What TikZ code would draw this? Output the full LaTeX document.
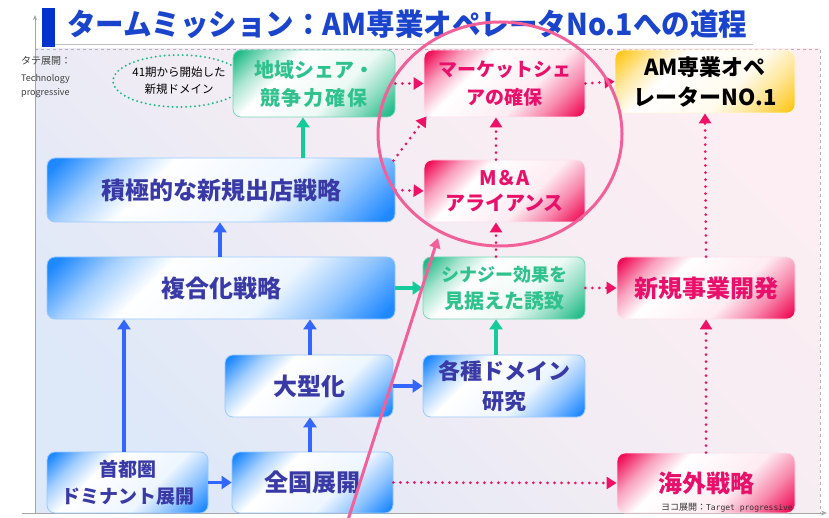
\documentclass[tikz,border=0pt]{standalone}
\usepackage{fontspec}
\usepackage{graphicx}
\setmainfont{Noto Sans CJK JP}
\newfontfamily\jp{Noto Sans CJK JP}
\newfontfamily\monof{DejaVu Sans Mono}
\usetikzlibrary{arrows.meta,shapes.geometric}
\definecolor{bxB}{HTML}{1E88FF}
\definecolor{bxG}{HTML}{22BB88}
\definecolor{bxP}{HTML}{F0105A}
\definecolor{bxY}{HTML}{FFC820}
\definecolor{txB}{HTML}{3A3AA6}
\definecolor{txG}{HTML}{30C28E}
\definecolor{txP}{HTML}{E8106A}
\definecolor{arB}{HTML}{3366FF}
\definecolor{arG}{HTML}{14CC99}
\definecolor{arP}{HTML}{EE1166}
\definecolor{circP}{HTML}{F2609A}
\definecolor{bgP}{HTML}{FCEEF2}
\definecolor{bgB}{HTML}{DDE8F8}
\definecolor{titleB}{HTML}{1A44CC}
\definecolor{barB}{HTML}{0033CC}
\pgfdeclarehorizontalshading{bluesh}{100bp}{color(0bp)=(bxB); color(17bp)=(bxB); color(27bp)=(bxB!40!white); color(37bp)=(white); color(60bp)=(white!92!bxB); color(72bp)=(bxB!50!white); color(83bp)=(bxB); color(100bp)=(bxB)}
\pgfdeclarehorizontalshading{greensh}{100bp}{color(0bp)=(bxG); color(17bp)=(bxG); color(27bp)=(bxG!40!white); color(37bp)=(white); color(60bp)=(white!92!bxG); color(72bp)=(bxG!50!white); color(83bp)=(bxG); color(100bp)=(bxG)}
\pgfdeclarehorizontalshading{pinksh}{100bp}{color(0bp)=(bxP); color(17bp)=(bxP); color(27bp)=(bxP!40!white); color(37bp)=(white); color(60bp)=(white!92!bxP); color(72bp)=(bxP!50!white); color(83bp)=(bxP); color(100bp)=(bxP)}
\pgfdeclarehorizontalshading{yellowsh}{100bp}{color(0bp)=(bxY); color(17bp)=(bxY); color(27bp)=(bxY!40!white); color(37bp)=(white); color(60bp)=(white!92!bxY); color(72bp)=(bxY!50!white); color(83bp)=(bxY); color(100bp)=(bxY)}
\tikzset{
  box/.style={rounded corners=8pt, inner sep=0pt, align=center, line width=0.8pt, shading angle=-45},
  bluebox/.style={box, shading=bluesh, draw=bxB!45!white, text=txB, font={\jp\bfseries\fontsize{24}{30}\selectfont}},
  greenbox/.style={box, shading=greensh, draw=bxG!60!white, text=txG, font={\jp\bfseries\fontsize{20}{28}\selectfont}},
  pinkbox/.style={box, shading=pinksh, draw=bxP!12!white, text=txP, font={\jp\bfseries\fontsize{20}{28}\selectfont}},
  yellowbox/.style={box, shading=yellowsh, draw=bxY!15!white, text=black, font={\jp\bfseries\fontsize{22}{30}\selectfont}},
  barrow/.style={draw=arB, line width=3.5pt, -{Triangle[width=13pt,length=10pt]}},
  garrow/.style={draw=arG, line width=3.5pt, -{Triangle[width=13pt,length=10pt]}},
  parrow/.style={draw=arP, line width=3pt, line cap=round, dash pattern=on 0pt off 7pt, -{Triangle[width=12pt,length=10pt]}},
  axisline/.style={draw=gray!70, line width=0.8pt},
  small/.style={inner sep=0pt, anchor=west, text=black!75}
}
\begin{document}
\begin{tikzpicture}[x=1pt,y=-1pt]
\useasboundingbox (0,0) rectangle (829,518);
\fill[white] (0,0) rectangle (829,518);
% background panel
\shade[top color=bgP, bottom color=bgB, middle color=bgP!70!bgB, shading angle=-45] (35,49) rectangle (820,513);
\draw[gray!60, dashed, line width=0.8pt] (35,49) -- (820,49) -- (820,513);
\draw[gray!50, line width=1pt] (55,45) -- (753,45);
% axes
\draw[axisline, -{Stealth[length=5pt,width=4pt]}] (35,513) -- (35,15);
\draw[axisline, -{Stealth[length=6pt,width=5pt]}] (22,513) -- (827,513);
% title
\fill[barB] (42,8) rectangle (55,47);
\node[anchor=west, inner sep=0pt, text=titleB] (title) at (67,24) {\resizebox{680pt}{\height}{\jp\bfseries\fontsize{30}{34}\selectfont タームミッション：AM専業オペレータNo.1への道程}};
% axis labels
\node[small, font={\jp\fontsize{10}{12}\selectfont}] (tate) at (21,61) {タテ展開：};
\node[small, font={\fontsize{9}{11}\selectfont}] (tech) at (21,79) {Technology};
\node[small, font={\fontsize{9}{11}\selectfont}] (prog) at (21,93) {progressive};
% boxes
\node[ellipse, draw=bxG, line width=2.2pt, line cap=round, dash pattern=on 0pt off 4.5pt, minimum width=100pt, minimum height=52pt, align=center, inner sep=0pt, font={\jp\fontsize{11.5}{17}\selectfont}] (ell) at (179,81) {41期から開始した\\新規ドメイン};
\node[greenbox, minimum width=162pt, minimum height=67pt] (chiiki) at (314,83.5) {地域シェア・\\競\kern2pt 争\kern2pt 力\kern2pt 確\kern2pt 保};
\node[pinkbox, minimum width=161pt, minimum height=67pt, font={\jp\bfseries\fontsize{19}{28}\selectfont}] (market) at (504.5,83.5) {マーケットシェ\\アの確保};
\node[yellowbox, minimum width=180pt, minimum height=63pt] (am) at (705,81.5) {AM専業オペ\\レーターNO.1};
\node[pinkbox, minimum width=161pt, minimum height=62pt, font={\jp\bfseries\fontsize{20}{25}\selectfont}] (ma) at (504.5,191) {M＆A\\アライアンス};
\node[bluebox, minimum width=348pt, minimum height=64pt] (sekkyoku) at (221,190) {積極的な新規出店戦略};
\node[bluebox, minimum width=348pt, minimum height=62pt] (fukugo) at (221,288) {複合化戦略};
\node[greenbox, minimum width=162pt, minimum height=62pt, font={\jp\bfseries\fontsize{20}{27}\selectfont}] (synergy) at (504,288) {{\fontsize{18}{27}\selectfont シナジー効果を}\\見据えた誘致};
\node[pinkbox, minimum width=178pt, minimum height=62pt, font={\jp\bfseries\fontsize{24}{30}\selectfont}] (shinki) at (706,288) {新規事業開発};
\node[bluebox, minimum width=168pt, minimum height=62pt] (ogata) at (309,386) {大型化};
\node[bluebox, minimum width=162pt, minimum height=62pt, font={\jp\bfseries\fontsize{22}{30}\selectfont}] (kakushu) at (504,386) {各種ドメイン\\研究};
\node[bluebox, minimum width=161pt, minimum height=61pt, font={\jp\bfseries\fontsize{19}{27}\selectfont}] (shuto) at (127.5,482.5) {首都圏\\ドミナント展開};
\node[bluebox, minimum width=161pt, minimum height=61pt] (zenkoku) at (312.5,482.5) {全国展開};
\node[pinkbox, minimum width=178pt, minimum height=60pt, font={\jp\bfseries\fontsize{24}{30}\selectfont}] (kaigai) at (706,483) {海外戦略};
\node[inner sep=0pt, anchor=east, text=black!80] (yoko) at (793,508) {{\jp\fontsize{9}{10}\selectfont ヨコ展開：}{\monof\fontsize{8}{10}\selectfont Target progressive}};
% connectors
\draw[garrow] (sekkyoku.north -| 303,0) -- (chiiki.south -| 303,0);
\draw[parrow] (chiiki.east) -- (market.west);
\draw[parrow] ([xshift=-2pt,yshift=-3pt]sekkyoku.north east) -- ([xshift=3pt,yshift=1pt]market.south west);
\draw[parrow] (sekkyoku.east) -- (ma.west);
\draw[parrow] (ma.north -| 496,0) -- (market.south -| 496,0);
\draw[parrow] (market.east) -- (am.west);
\draw[parrow] (synergy.north -| 496,0) -- (ma.south -| 496,0);
\draw[parrow] (shinki.north) -- (am.south);
\draw[barrow] (fukugo.north -| 220,0) -- (sekkyoku.south -| 220,0);
\draw[garrow] (fukugo.east) -- (synergy.west);
\draw[parrow] (synergy.east) -- (shinki.west);
\draw[garrow] (kakushu.north -| 496,0) -- (synergy.south -| 496,0);
\draw[barrow] (ogata.east) -- (kakushu.west);
\draw[barrow] (ogata.north -| 310,0) -- (fukugo.south -| 310,0);
\draw[barrow] (shuto.north -| 124,0) -- (fukugo.south -| 124,0);
\draw[barrow] (shuto.east) -- (zenkoku.west);
\draw[barrow] (zenkoku.north -| 310,0) -- (ogata.south -| 310,0);
\draw[parrow] (zenkoku.east) -- (kaigai.west);
\draw[parrow] (kaigai.north) -- (shinki.south);
% annotation circle and pointer
\node[ellipse, draw=circP, line width=3pt, minimum width=244pt, minimum height=224pt, inner sep=0pt] (circ) at (500,134) {};
\coordinate (ptrfoot) at (348,520);
\coordinate (ptrtip) at (438,238);
\draw[circP, line width=3pt, -{Triangle[width=11pt,length=10pt]}] (ptrfoot) -- (ptrtip);
\end{tikzpicture}
\end{document}
